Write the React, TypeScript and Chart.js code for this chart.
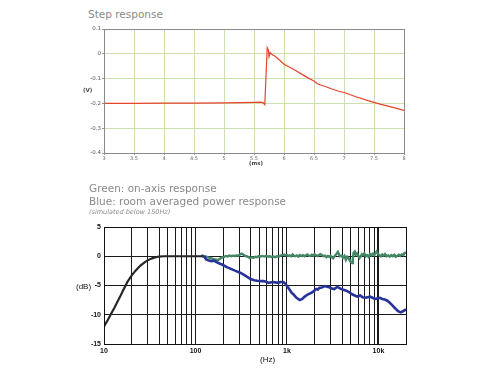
import React, { useEffect, useRef } from "react";
import { Chart, registerables } from "chart.js";

Chart.register(...registerables);

// ---- Step response data ----
const stepTime = [3.0, 3.5, 4.0, 4.5, 5.0, 5.3, 5.5, 5.6, 5.65, 5.68, 5.72, 5.74, 5.75, 5.77, 5.8, 5.85, 5.9, 6.0, 6.1, 6.2, 6.3, 6.4, 6.5, 6.55, 6.6, 6.7, 6.8, 6.9, 7.0, 7.2, 7.4, 7.5, 7.6, 7.8, 8.0];
const stepV = [-0.2, -0.2, -0.199, -0.199, -0.198, -0.197, -0.196, -0.195, -0.197, -0.205, 0.025, 0.015, -0.012, 0.005, -0.003, -0.01, -0.02, -0.042, -0.055, -0.068, -0.083, -0.097, -0.11, -0.12, -0.125, -0.133, -0.142, -0.15, -0.156, -0.173, -0.189, -0.196, -0.203, -0.215, -0.228];
const stepXTicks = [3, 3.5, 4, 4.5, 5, 5.5, 6, 6.5, 7, 7.5, 8];
const stepYTicks = [0.1, 0, -0.1, -0.2, -0.3, -0.4];

// ---- Frequency response data ----
const hpFreq = [10, 11, 12, 13, 14, 15, 16, 18, 20, 22, 25, 28, 30, 33, 36, 40, 45, 50, 60, 80, 100, 120];
const hpDb = [-12.0, -10.9, -9.8, -8.8, -7.8, -6.9, -6.0, -4.4, -3.3, -2.5, -1.6, -1.0, -0.7, -0.4, -0.2, -0.05, 0, 0, 0, 0, 0, 0];

const onAxisFreq = [116, 122, 128, 134, 140, 146, 152, 158, 164, 170, 176, 183, 190, 198, 206, 215, 224, 234, 245, 256, 268, 280, 293, 306, 318, 330, 345, 360, 376, 393, 410, 430, 450, 470, 490, 515, 540, 565, 590, 620, 650, 680, 710, 745, 780, 815, 850, 890, 930, 965,
  1000, 1040, 1070, 1110, 1150, 1190, 1230, 1280, 1330, 1380, 1430, 1490, 1550, 1610, 1670, 1730, 1800, 1870, 1940, 2000, 2080, 2160, 2240, 2320, 2400, 2500, 2600, 2700, 2800, 2900, 3000, 3100, 3200, 3300, 3400, 3500, 3600, 3700, 3800, 3950, 4100, 4250, 4400, 4550, 4700, 4850, 5000, 5150, 5250, 5350, 5500, 5650, 5800, 6000, 6200, 6400, 6600, 6800, 7000, 7250, 7500, 7800, 8100, 8400, 8700, 9000, 9300, 9600, 9900, 10200, 10600, 11000, 11400, 11800, 12300, 12800, 13300, 13800, 14300, 14900, 15500, 16100, 16700, 17300, 18000, 18700, 19300, 20000];
const onAxisDb = [0.1, 0.05, -0.05, -0.1, -0.25, -0.35, -0.4, -0.5, -0.55, -0.6, -0.7, -0.45, -0.3, -0.15, -0.1, 0.05, -0.05, 0.1, 0.0, 0.1, 0.05, 0.15, 0.1, 0.3, 0.45, 0.35, 0.1, 0.0, -0.1, -0.3, -0.2, -0.25, -0.1, -0.15, 0.0, -0.05, 0.05, -0.05, 0.05, -0.05, 0.0, -0.15, -0.05, -0.15, 0.0, -0.05, 0.1, 0.2, 0.3, 0.15,
  0.2, 0.05, 0.15, 0.0, 0.3, 0.1, 0.0, 0.15, -0.05, 0.2, 0.05, 0.2, 0.0, 0.15, 0.3, 0.1, 0.05, 0.25, 0.1, 0.35, 0.15, 0.05, 0.2, 0.35, 0.2, 0.0, 0.1, -0.15, 0.05, -0.1, 0.1, -0.2, -0.35, 0.0, 0.2, 0.5, 0.75, 0.3, 0.0, 0.1, -0.25, 0.05, -0.6, -0.1, -0.3, -0.75, -1.0, -1.15, -0.4, 0.6, 0.8, 0.3, 0.5, 0.1, -0.3, 0.0, 0.35, 0.2, 0.5, 0.0, 0.2, -0.1, 0.4, 0.15, 0.45, 0.2, 0.55, 0.85, 0.4, 0.2, 0.0, 0.3, 0.1, 0.35, 0.0, 0.15, -0.05, 0.2, 0.0, 0.25, -0.1, 0.1, 0.25, 0.05, 0.3, 0.2, 0.55, 0.65];

const powerFreq = [116, 125, 131, 140, 149, 160, 170, 183, 200, 220, 244, 270, 312, 350, 400, 440, 472, 520, 557, 600, 631, 680, 714, 760, 809, 860, 915, 960, 1000, 1035, 1125, 1175, 1270, 1380, 1470, 1563, 1700, 1845, 1950, 2090, 2180, 2265, 2400, 2570, 2750, 2900, 3100, 3280, 3420, 3560, 3800, 4030, 4300, 4570, 4850, 5150, 5500, 5860, 6100, 6340, 6700, 7160, 7600, 8100, 8600, 9150, 9800, 10370, 11000, 11700, 12500, 13300, 14200, 15000, 16400, 17500, 18500, 20000];
const powerDb = [0.1, -0.1, -0.55, -0.75, -0.85, -0.75, -1.0, -1.25, -1.5, -1.85, -2.15, -2.45, -2.85, -3.3, -3.9, -4.1, -4.2, -4.25, -4.25, -4.4, -4.55, -4.45, -4.4, -4.5, -4.5, -4.4, -4.4, -4.7, -5.1, -5.4, -6.25, -6.5, -7.1, -7.5, -7.3, -6.9, -6.5, -6.25, -6.0, -5.6, -5.7, -5.4, -5.35, -5.1, -5.2, -5.3, -5.5, -5.6, -5.4, -5.25, -5.5, -5.7, -5.8, -5.95, -6.2, -6.5, -6.7, -6.9, -6.8, -6.7, -7.0, -7.1, -7.0, -6.9, -7.1, -7.3, -7.2, -7.1, -7.3, -7.4, -7.6, -7.95, -8.4, -8.8, -9.4, -9.6, -9.4, -9.1];

const freqDecades = [10, 100, 1000, 10000];
const freqDecadeLabels = ["10", "100", "1k", "10k"];
const freqMantissas = [1, 2, 3, 4, 5, 6, 7, 8, 9];
const dbTicks = [5, 0, -5, -10, -15];

const framePlugin = (color: string, width: number) => ({
  id: "frame",
  afterDatasetsDraw(chart: any) {
    const { ctx, chartArea } = chart;
    ctx.save();
    ctx.strokeStyle = color;
    ctx.lineWidth = width;
    ctx.strokeRect(
      Math.round(chartArea.left) + 0.5,
      Math.round(chartArea.top) + 0.5,
      Math.round(chartArea.right - chartArea.left),
      Math.round(chartArea.bottom - chartArea.top)
    );
    ctx.restore();
  },
});

function StepChart() {
  const ref = useRef<HTMLCanvasElement | null>(null);
  useEffect(() => {
    if (!ref.current) return;
    const chart = new Chart(ref.current, {
      type: "line",
      data: {
        datasets: [
          {
            data: stepTime.map((t, i) => ({ x: t, y: stepV[i] })),
            borderColor: "#e5432d",
            borderWidth: 1.2,
            pointRadius: 0,
            tension: 0,
          },
        ],
      },
      options: {
        animation: false,
        responsive: false,
        layout: { padding: { left: 0, right: 16, top: 9, bottom: 0 } },
        plugins: { legend: { display: false }, tooltip: { enabled: false } },
        scales: {
          x: {
            type: "linear",
            min: 3,
            max: 8,
            afterBuildTicks: (s: any) => {
              s.ticks = stepXTicks.map((v) => ({ value: v }));
            },
            afterFit: (s: any) => {
              s.height = 22;
            },
            ticks: {
              autoSkip: false,
              maxRotation: 0,
              padding: 1,
              color: "#666",
              font: { size: 5, family: "DejaVu Sans" },
              callback: (v: any) => String(v),
            },
            grid: { color: "#cfe0b0", tickColor: "#999", tickLength: 2 },
            border: { display: false },
          },
          y: {
            type: "linear",
            min: -0.4,
            max: 0.1,
            afterBuildTicks: (s: any) => {
              s.ticks = stepYTicks.map((v) => ({ value: v }));
            },
            afterFit: (s: any) => {
              s.width = 44;
            },
            ticks: {
              padding: 1,
              color: "#555",
              font: { size: 5.5, family: "DejaVu Sans" },
              callback: (v: any) => String(Math.round(v * 10) / 10),
            },
            grid: { color: "#cfe0b0", tickColor: "#999", tickLength: 2 },
            border: { display: false },
          },
        },
      },
      plugins: [framePlugin("#8a8a8a", 1)],
    });
    return () => chart.destroy();
  }, []);
  return <canvas ref={ref} width={360} height={155} style={{ position: "absolute", left: 60, top: 20, width: 360, height: 155 }} />;
}

function FreqChart() {
  const ref = useRef<HTMLCanvasElement | null>(null);
  useEffect(() => {
    if (!ref.current) return;
    const toPts = (f: number[], d: number[]) => f.map((x, i) => ({ x, y: d[i] }));
    const chart = new Chart(ref.current, {
      type: "line",
      data: {
        datasets: [
          { data: toPts(hpFreq, hpDb), borderColor: "#262626", borderWidth: 2.2, pointRadius: 0, tension: 0 },
          { data: toPts(powerFreq, powerDb), borderColor: "#27339a", borderWidth: 2.6, pointRadius: 0, tension: 0 },
          { data: toPts(onAxisFreq, onAxisDb), borderColor: "#448766", borderWidth: 2.4, pointRadius: 0, tension: 0 },
        ],
      },
      options: {
        animation: false,
        responsive: false,
        layout: { padding: { left: 0, right: 14, top: 12, bottom: 0 } },
        plugins: { legend: { display: false }, tooltip: { enabled: false } },
        scales: {
          x: {
            type: "logarithmic",
            min: 10,
            max: 20000,
            afterBuildTicks: (s: any) => {
              const t: { value: number }[] = [];
              freqDecades.forEach((d) => freqMantissas.forEach((m) => {
                if (d * m <= 20000) t.push({ value: d * m });
              }));
              s.ticks = t;
            },
            afterFit: (s: any) => {
              s.height = 31;
            },
            ticks: {
              autoSkip: false,
              maxRotation: 0,
              padding: 3,
              color: "#111",
              font: { size: 7, family: "Liberation Sans", weight: "bold" },
              callback: (v: any) => {
                const i = freqDecades.indexOf(Number(v));
                return i >= 0 ? freqDecadeLabels[i] : "";
              },
            },
            grid: {
              color: "#1a1a1a",
              drawTicks: false,
              lineWidth: (c: any) => (c.tick && c.tick.value === 10000 ? 2 : 1),
            },
            border: { display: false },
          },
          y: {
            type: "linear",
            min: -15,
            max: 5,
            afterBuildTicks: (s: any) => {
              s.ticks = dbTicks.map((v) => ({ value: v }));
            },
            afterFit: (s: any) => {
              s.width = 44;
            },
            ticks: {
              padding: 3,
              color: "#111",
              font: { size: 7, family: "Liberation Sans", weight: "bold" },
              callback: (v: any) => String(v),
            },
            grid: { color: "#1a1a1a", drawTicks: false },
            border: { display: false },
          },
        },
      },
      plugins: [framePlugin("#111", 1)],
    });
    return () => chart.destroy();
  }, []);
  return <canvas ref={ref} width={360} height={160} style={{ position: "absolute", left: 60, top: 215, width: 360, height: 160 }} />;
}

const label = (text: string, style: React.CSSProperties) => (
  <div style={{ position: "absolute", whiteSpace: "nowrap", fontFamily: "DejaVu Sans", lineHeight: 1, ...style }}>{text}</div>
);

export default function App() {
  return (
    <div style={{ position: "absolute", left: 0, top: 0, width: 500, height: 375, background: "#fff", overflow: "hidden" }}>
      {label("Step response", { left: 88, top: 9, fontSize: 10.5, color: "#8a8a8a" })}
      <StepChart />
      {label("(V)", { left: 83, top: 88, fontSize: 5.5, color: "#444", fontWeight: "bold" })}
      {label("(ms)", { left: 249, top: 161, fontSize: 5.5, color: "#444", fontWeight: "bold" })}
      {label("Green: on-axis response", { left: 89, top: 183, fontSize: 10.5, color: "#8a8a8a" })}
      {label("Blue: room averaged power response", { left: 89, top: 196, fontSize: 10.5, color: "#8a8a8a" })}
      {label("(simulated below 150Hz)", { left: 89, top: 209, fontSize: 6.5, color: "#8a8a8a", fontStyle: "italic" })}
      <FreqChart />
      {label("(dB)", { left: 76, top: 283, fontSize: 8, color: "#111", fontFamily: "Liberation Sans" })}
      {label("(Hz)", { left: 260, top: 356, fontSize: 8, color: "#111", fontFamily: "Liberation Sans" })}
    </div>
  );
}
